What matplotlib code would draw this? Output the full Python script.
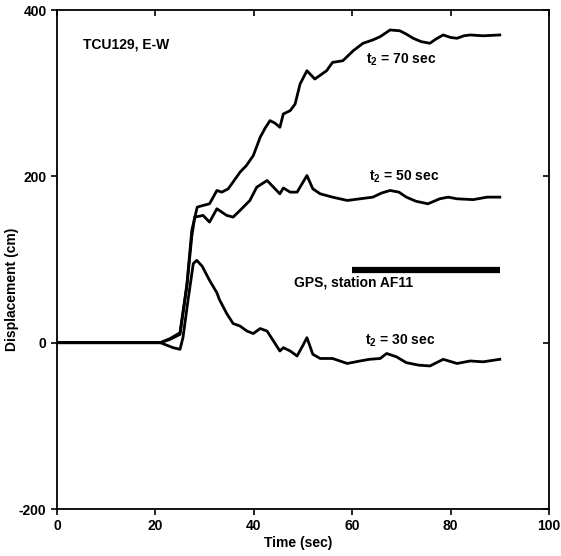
import matplotlib
matplotlib.use("Agg")
import matplotlib.pyplot as plt
import numpy as np

plt.rcParams['font.family'] = ['Liberation Sans', 'DejaVu Sans']
plt.rcParams['font.weight'] = 'bold'
plt.rcParams['mathtext.fontset'] = 'custom'
plt.rcParams['mathtext.bf'] = 'Liberation Sans:bold'
plt.rcParams['mathtext.rm'] = 'Liberation Sans:bold'
plt.rcParams['axes.unicode_minus'] = False

# --- data ---
t70 = [0, 21, 23, 25, 26.4, 27.4, 28.5, 29.7, 31, 32.5, 33.5, 34.8, 36, 37.2, 38.5, 39.9, 41.3,
       42.3, 43.3, 44.3, 45.3, 46, 47.4, 48.4, 49.4, 50.8, 52.4, 53.6, 54.8, 56, 58.1, 60.2, 62.2, 64.2,
       65.7, 67.7, 69.7, 71, 72.4, 74, 75.8, 77, 78.5, 80, 81.3, 82.7, 84, 86.6, 90]
d70 = [0, 0, 5, 12, 70, 135, 163, 165, 167, 183, 181, 185, 195, 205, 213, 225, 247,
       258, 267, 264, 259, 275, 279, 287, 311, 327, 317, 322, 327, 337, 339, 351, 360, 364,
       368, 376, 375, 371, 366, 362, 360, 365, 370, 367, 366, 369, 370, 369, 370]

t50 = [0, 21, 23, 25, 26.4, 27.4, 28, 29.7, 31, 32.5, 34.5, 35.8, 37.2, 39.2, 40.6,
       42.7, 44, 45.3, 46, 47.4, 48.8, 50, 50.8, 52, 53.5, 56, 59, 61.6, 64.2, 66, 67.7,
       69.5, 71, 73, 75.4, 77.8, 79.5, 81.3, 84.6, 87.4, 90]
d50 = [0, 0, 4, 10, 68, 128, 151, 153, 145, 161, 153, 151, 159, 171, 187,
       195, 187, 179, 186, 181, 181, 193, 201, 185, 179, 175, 171, 173, 175, 180, 183,
       181, 175, 170, 167, 173, 175, 173, 172, 175, 175]

t30 = [0, 21, 23.6, 25, 25.6, 26.7, 27.7, 28.4, 29.5, 31, 32.5, 33, 34.5, 35.8, 37.2,
       38.6, 39.9, 41.3, 42.7, 44, 45.3, 46, 47.4, 48.8, 50, 50.8, 52, 53.5, 56, 59,
       61.6, 63.5, 65.7, 67, 69, 71, 73.5, 75.8, 78.5, 81.3, 84, 86.6, 90]
d30 = [0, 0, -6, -8, 6, 54, 95, 99, 92, 75, 60, 52, 35, 23, 20,
       14, 11, 17, 14, 2, -10, -6, -10, -16, -3, 6, -14, -19, -19, -25,
       -22, -20, -19, -13, -17, -24, -27, -28, -20, -25, -22, -23, -20]

gps_t = [60, 90]
gps_d = [87, 87]

fig = plt.figure(figsize=(5.61, 5.56), dpi=100)
ax = fig.add_axes([0.1016, 0.0845, 0.8770, 0.8975])

lw = 2.0
for tt, dd in [(t70, d70), (t50, d50), (t30, d30)]:
    ax.plot(tt, dd, color='black', lw=lw, solid_joinstyle='round')
ax.plot(gps_t, gps_d, color='black', lw=4.5, solid_capstyle='butt')

ax.set_xlim(0, 100)
ax.set_ylim(-200, 400)
ax.set_xticks(np.arange(0, 101, 20))
ax.set_yticks([-200, 0, 200, 400])

ax.tick_params(axis='both', which='both', labelsize=10, length=4, width=1.2)
ax.tick_params(axis='x', top=True, direction='out')
ax.tick_params(axis='y', right=True, direction='out')
for tk in ax.xaxis.get_major_ticks():
    tk.tick2line.set_marker(3)
for tk in ax.yaxis.get_major_ticks():
    tk.tick2line.set_marker(0)
for s in ax.spines.values():
    s.set_linewidth(1.3)

ax.set_xlabel('Time (sec)', fontsize=10, fontweight='bold')
ax.set_ylabel('Displacement (cm)', fontsize=10, fontweight='bold')
ax.xaxis.set_label_coords(0.49, -0.055)
ax.yaxis.set_label_coords(-0.078, 0.44)

ax.text(5.3, 358, 'TCU129, E-W', fontsize=10, fontweight='bold', va='center', ha='left')
ax.text(70, 340, r'$\mathbf{t_2}$ = 70 sec', fontsize=10, fontweight='bold', ha='center', va='center')
ax.text(70.5, 200, r'$\mathbf{t_2}$ = 50 sec', fontsize=10, fontweight='bold', ha='center', va='center')
ax.text(60.2, 72, 'GPS, station AF11', fontsize=10, fontweight='bold', ha='center', va='center')
ax.text(69.7, 2, r'$\mathbf{t_2}$ = 30 sec', fontsize=10, fontweight='bold', ha='center', va='center')

fig.savefig('out.png', dpi=100)
